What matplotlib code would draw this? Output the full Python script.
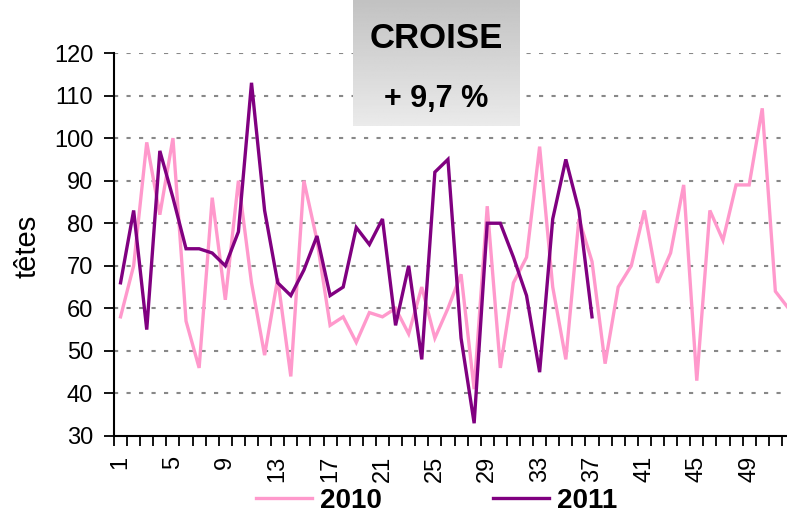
import numpy as np
import matplotlib
matplotlib.use('Agg')
from matplotlib import pyplot as plt

plt.rcParams['font.family'] = ['Liberation Sans', 'DejaVu Sans']

weeks = list(range(1, 53))
val_2010 = [58, 70, 99, 82, 100, 57, 46, 86, 62, 90,
            66, 49, 67, 44, 90, 76, 56, 58, 52, 59,
            58, 60, 54, 65, 53, 60, 68, 41, 84, 46,
            66, 72, 98, 65, 48, 81, 71, 47, 65, 70,
            83, 66, 73, 89, 43, 83, 76, 89, 89, 107,
            64, 60]
val_2011 = [66, 83, 55, 97, 86, 74, 74, 73, 70, 78,
            113, 83, 66, 63, 69, 77, 63, 65, 79, 75,
            81, 56, 70, 48, 92, 95, 53, 33, 80, 80,
            72, 63, 45, 81, 95, 83, 58]
label_weeks = list(range(1, 50, 4))
title_txt = "CROISE"
change_txt = "+ 9,7 %"

W, H = 787, 517
fig = plt.figure(figsize=(W / 100, H / 100), dpi=100)
ax = fig.add_axes([114 / W, (H - 436) / H, (795 - 114) / W, (436 - 53) / H])

l1, = ax.plot(weeks, val_2010, color='#FF99CC', lw=2.4, solid_joinstyle='miter', zorder=3)
l2, = ax.plot(weeks[:len(val_2011)], val_2011, color='#800080', lw=2.4, solid_joinstyle='miter', zorder=4)

ax.set_xlim(0.5, 52.5)
ax.set_ylim(30, 120)
ax.set_yticks(range(30, 121, 10))
for v in range(40, 121, 10):
    ax.axhline(v, color='#888888', lw=1.5, ls=(0, (2, 4)), zorder=1)

# category boundaries as tick marks, labels in the middle
ax.set_xticks(np.arange(0.5, 53.5, 1))
ax.set_xticklabels([])
ax.set_xticks(label_weeks, minor=True)
ax.set_xticklabels([str(w) for w in label_weeks], minor=True, rotation=90, fontsize=17)
ax.tick_params(axis='x', which='major', length=7, width=1.3, direction='out')
ax.tick_params(axis='x', which='minor', length=0, pad=14)
ax.tick_params(axis='y', length=7, width=1.3, labelsize=17, pad=8)

for s in ['top', 'right']:
    ax.spines[s].set_visible(False)
ax.spines['left'].set_linewidth(1.5)
ax.spines['bottom'].set_linewidth(1.5)

fig.text(28 / W, (H - 246) / H, 'têtes', rotation=90, fontsize=21, ha='center', va='center')

fig.legend([l1, l2], ['2010', '2011'], loc='center', bbox_to_anchor=(437 / W, (H - 501) / H),
           ncol=2, frameon=False, handlelength=2.0, handletextpad=0.3, columnspacing=4.0,
           prop={'weight': 'bold', 'size': 20})

# title box with gray gradient
bx = fig.add_axes([353 / W, (H - 126) / H, 167 / W, 126 / H])
grad = np.linspace(0.76, 0.92, 100).reshape(-1, 1)
bx.imshow(grad, cmap='gray', vmin=0, vmax=1, aspect='auto', extent=[0, 1, 0, 1], origin='upper')
bx.set_xlim(0, 1)
bx.set_ylim(0, 1)
bx.axis('off')
bx.text(0.5, 1 - 38 / 126, title_txt, ha='center', va='center', fontsize=25, fontweight='bold')
bx.text(0.5, 1 - 99 / 126, change_txt, ha='center', va='center', fontsize=22, fontweight='bold')

fig.savefig('out.png', dpi=100)
